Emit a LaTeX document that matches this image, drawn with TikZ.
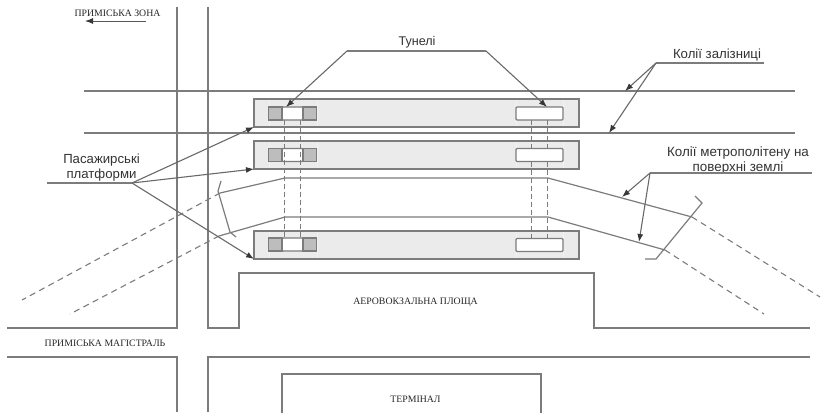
\documentclass[tikz,border=0pt]{standalone}
\usepackage{fontspec}
\setmainfont{Liberation Serif}
\newfontfamily\labelfont{Liberation Sans}
\usetikzlibrary{arrows.meta}
\definecolor{ln}{HTML}{7C7C7C}
\definecolor{pf}{HTML}{EBEBEB}
\definecolor{sd}{HTML}{BDBDBD}
\tikzset{
  road/.style={draw=ln,line width=1.2pt},
  thin line/.style={draw=ln,line width=1.2pt},
  pointer/.style={draw=ln!85!black,line width=1.1pt,-{Latex[length=8pt,width=6pt,color=black!78]}},
  dashline/.style={draw=ln,line width=1.1pt,dash pattern=on 6pt off 4.5pt},
  vdash/.style={draw=ln,line width=1.1pt,dash pattern=on 5pt off 3pt},
  platform/.style={draw=ln,line width=1.2pt,fill=pf,minimum width=325pt,minimum height=28pt,inner sep=0pt,outer sep=0pt},
  ghost/.style={draw=black!5,line width=.8pt},
  tunnel/.style={draw=ln,line width=1.2pt,fill=white,rounded corners=1pt,minimum height=13pt,inner sep=0pt,outer sep=0pt},
  sidebox/.style={draw=ln,line width=1.2pt,fill=sd,minimum width=13.5pt,minimum height=13pt,inner sep=0pt,outer sep=0pt},
  caption/.style={inner sep=0pt,text=black!80,font=\labelfont\fontsize{13.2}{15}\selectfont,align=center},
  small/.style={inner sep=0pt,text=black!85,font=\fontsize{9.8}{11}\selectfont}
}
\begin{document}
\begin{tikzpicture}[x=1pt,y=-1pt]
\useasboundingbox (0,0) rectangle (821,416);
\fill[white] (0,0) rectangle (821,416);

% roads
\coordinate (v1t) at (177,7); \coordinate (v1m) at (177,328);
\coordinate (v2t) at (208,7); \coordinate (v2m) at (208,328);
\coordinate (hl1) at (7,328); \coordinate (hl2) at (7,357);
\coordinate (v1b) at (177,357); \coordinate (v1e) at (177,412);
\coordinate (v2b) at (208,357); \coordinate (v2e) at (208,412);
\coordinate (hr2) at (810,357); \coordinate (hr1) at (810,328);
\draw[road] (v1t) -- (v1m) -- (hl1);
\draw[road] (hl2) -- (v1b) -- (v1e);
\draw[road] (v2t) -- (v2m) -- (239,328) -- (239,273) -- (594,273) -- (594,328) -- (hr1);
\draw[road] (v2e) -- (v2b) -- (hr2);
\draw[road] (282,413) -- (282,374) -- (541,374) -- (541,413);

% railway tracks
\coordinate (r1a) at (84,91); \coordinate (r1b) at (795,91);
\coordinate (r2a) at (84,133); \coordinate (r2b) at (795,133);
\draw[road] (r1a) -- (r1b);
\draw[road] (r2a) -- (r2b);

% platforms
\node[platform] (p1) at (416.5,113) {};
\node[platform] (p2) at (416.5,155) {};
\node[platform] (p3) at (416.5,245) {};
\foreach \pa/\pb in {100/126,142/168,232/258}{
  \foreach \gx in {269,317,516,563}{
    \draw[ghost] (\gx,\pa) -- (\gx,\pb);
  }
}

% tunnels, left column
\node[tunnel,minimum width=21pt] (a1) at (292.5,113.5) {};
\node[tunnel,minimum width=21pt] (a2) at (292.5,155) {};
\node[tunnel,minimum width=21pt] (a3) at (292.5,244.5) {};
\foreach \n in {1,2,3}{
  \node[sidebox,anchor=east] (al\n) at (a\n.west) {};
  \node[sidebox,anchor=west] (ar\n) at (a\n.east) {};
}
% tunnels, right column
\node[tunnel,minimum width=47pt] (b1) at (539.5,113.5) {};
\node[tunnel,minimum width=47pt] (b2) at (539.5,155) {};
\node[tunnel,minimum width=47pt] (b3) at (539.5,245) {};

% tunnel connectors
\foreach \s in {-8,8}{
  \draw[vdash] ([xshift=\s pt]a1.south) -- ([xshift=\s pt]a3.north);
  \draw[vdash] ([xshift=\s pt]b1.south) -- ([xshift=\s pt]b2.north);
  \draw[vdash] ([xshift=\s pt]b2.south) -- ([xshift=\s pt]b3.north);
}

% metro tracks
\coordinate (m1a) at (285,178); \coordinate (m1b) at (548,178);
\coordinate (m2a) at (285,217); \coordinate (m2b) at (548,217);
\coordinate (m1r) at (692,217); \coordinate (m2r) at (665,250);
\coordinate (m1l) at (220,193); \coordinate (m2l) at (219,236);
\coordinate (d1r) at (820,297); \coordinate (d2r) at (764,314);
\coordinate (d1l) at (22,300); \coordinate (d2l) at (70,314);
\draw[thin line] (m1l) -- (m1a) -- (m1b) -- (m1r);
\draw[thin line] (m2l) -- (m2a) -- (m2b) -- (m2r);
\draw[dashline] (m1r) -- (d1r);
\draw[dashline] (m2r) -- (d2r);
\draw[dashline] (m1l) -- (d1l);
\draw[dashline] (m2l) -- (d2l);

% section brackets
\draw[thin line] (695,196) -- (702,203) -- (656,259) -- (645,259);
\draw[thin line] (221,181) -- (218,191) -- (230,232) -- (236,237);

% labels and pointers
\node[small] (zone) at (117.5,13) {ПРИМІСЬКА ЗОНА};
\coordinate (za) at (146,21); \coordinate (zb) at (85,21);
\draw[draw=ln!70!black,line width=1pt,-{Latex[length=8pt,width=6pt,color=black!78]}] (za) -- (zb);

\node[caption,font=\labelfont\fontsize{12.6}{15}\selectfont] (tun) at (417,42.5) {Тунелі};
\coordinate (t1) at (347,51); \coordinate (t2) at (486,51);
\draw[thin line] (t1) -- (t2);
\draw[pointer] (t1) -- ([xshift=-6.5pt]a1.north);
\draw[pointer] (t2) -- ([xshift=7.5pt]b1.north);

\node[caption] (rail) at (717,55.5) {Колії залізниці};
\coordinate (k1) at (656,63); \coordinate (k2) at (764,63);
\draw[thin line] (k1) -- (k2);
\draw[pointer] (k1) -- (625,91);
\draw[pointer] (k1) -- (609,133);

\node[caption,font=\labelfont\fontsize{13.4}{15}\selectfont] (metro) at (738,160.5) {Колії метрополітену на\\поверхні землі};
\coordinate (q1) at (650,173); \coordinate (q2) at (812,173);
\draw[thin line] (q1) -- (q2);
\draw[pointer] (q1) -- (622,197);
\draw[pointer] (q1) -- (639,242);

\node[caption] (pas) at (101.5,167.5) {Пасажирські\\платформи};
\coordinate (h1) at (47,183); \coordinate (h2) at (132,183);
\draw[thin line] (h1) -- (h2);
\draw[pointer] (h2) -- (p1.south west);
\draw[pointer] (h2) -- (p2.south west);
\draw[pointer] (h2) -- (p3.south west);

\node[small] (mag) at (105,343) {ПРИМІСЬКА МАГІСТРАЛЬ};
\node[small] (sq) at (415.5,302) {АЕРОВОКЗАЛЬНА ПЛОЩА};
\node[small] (term) at (415.5,399) {ТЕРМІНАЛ};
\end{tikzpicture}
\end{document}
